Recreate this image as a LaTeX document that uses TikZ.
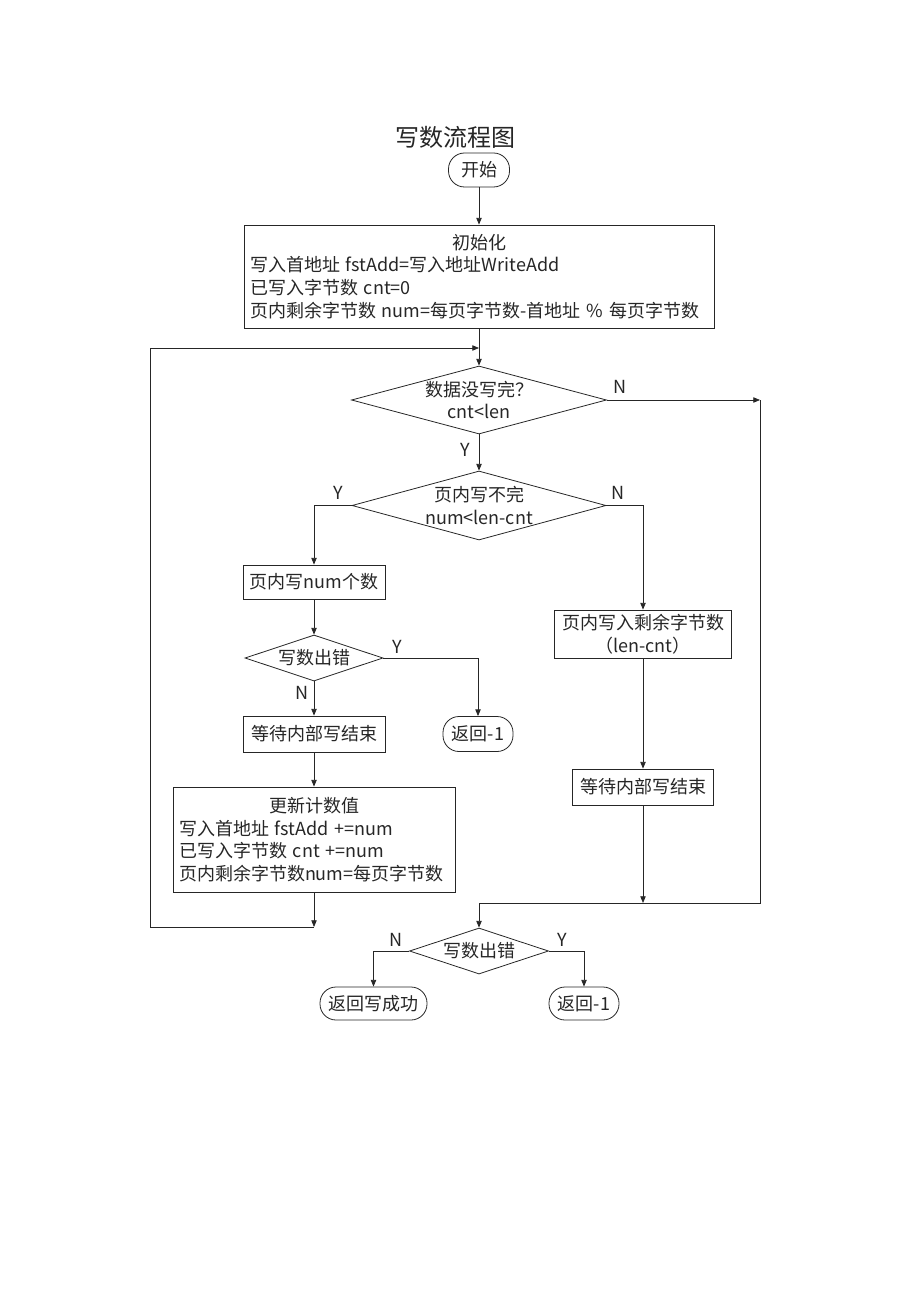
\documentclass[tikz,border=0pt]{standalone}
\usepackage{fontspec}
\setmainfont{Noto Sans CJK SC}
\usepackage{xcolor}
\usetikzlibrary{shapes.geometric,arrows.meta}

\begin{document}
\begin{tikzpicture}[x=0.75pt,y=-0.75pt,
	font=\fontsize{13.5pt}{17pt}\selectfont,
	line width=0.6pt, draw=black!85, text=black!85,
	>={Triangle[length=5pt,width=4pt]},
	procbox/.style={draw, rectangle, inner sep=0pt, align=center},
	termbox/.style={draw, rectangle, rounded corners=12pt, inner sep=0pt, align=center},
	decide/.style={draw, diamond, inner sep=0pt, align=center},
	yn/.style={inner sep=0pt}]
	\useasboundingbox (0,0) rectangle (920,1301);

	\node[font=\fontsize{18pt}{20pt}\selectfont] (title) at (455,137) {写数流程图};
	\node[termbox, minimum width=45.75pt, minimum height=25.5pt] (start) at (479,170) {开始};
	\node[procbox, inner xsep=4.5pt, text width=343.5pt, minimum height=77.25pt, align=left] (init) at (479,276.5)
		{\makebox[\hsize][c]{初始化}\\写入首地址 fstAdd=写入地址WriteAdd\\已写入字节数 cnt=0\\页内剩余字节数 num=每页字节数-首地址 \% 每页字节数};

	\node[decide, minimum width=191.25pt, minimum height=51pt, shape aspect=3.75] (d1) at (479,400) {数据没写完？\\cnt<len};
	\node[decide, minimum width=190.5pt, minimum height=51.75pt, shape aspect=3.7] (d2) at (479,505.5) {页内写不完\\num<len-cnt};

	\node[procbox, minimum width=106.5pt, minimum height=25.5pt] (pgnum) at (314,582) {页内写num个数};
	\node[decide, minimum width=103.5pt, minimum height=34.5pt, shape aspect=3] (d3) at (314,658) {写数出错};
	\node[termbox, minimum width=52.5pt, minimum height=26.25pt] (err1) at (478,734) {返回-1};
	\node[procbox, minimum width=106.5pt, minimum height=27pt] (wait1) at (314,734) {等待内部写结束};
	\node[procbox, inner xsep=4.5pt, text width=202.5pt, minimum height=78.75pt, align=left] (upd) at (314,839.5)
		{\makebox[\hsize][c]{更新计数值}\\写入首地址 fstAdd +=num\\已写入字节数 cnt +=num\\页内剩余字节数num=每页字节数};

	\node[procbox, minimum width=132.75pt, minimum height=36pt] (rest) at (643,634) {页内写入剩余字节数\\（len-cnt）};
	\node[procbox, minimum width=105.75pt, minimum height=27pt] (wait2) at (643,787) {等待内部写结束};

	\node[decide, minimum width=104.25pt, minimum height=34.5pt, shape aspect=3] (d4) at (479,951) {写数出错};
	\node[termbox, minimum width=80.25pt, minimum height=24.75pt] (okay) at (373.5,1003.5) {返回写成功};
	\node[termbox, minimum width=52.5pt, minimum height=24.75pt] (err2) at (584,1003.5) {返回-1};

	\coordinate (rtop) at (760,400);
	\coordinate (rbot) at (760,903);
	\coordinate (lbot) at (150,927);
	\coordinate (ltop) at (150,348);

	\draw[->] (start) -- (init);
	\draw[->] (init) -- (d1);
	\draw[->] (d1) -- (d2);
	\draw[->] (d1.east) -- (rtop);
	\draw[->] (rtop) -- (rbot) -- (d4 |- rbot) -- (d4.north);
	\draw[->] (d2.west) -| (pgnum.north);
	\draw[->] (d2.east) -| (rest.north);
	\draw[->] (pgnum) -- (d3);
	\draw[->] (d3.east) -| (err1.north);
	\draw[->] (d3) -- (wait1);
	\draw[->] (wait1) -- (upd);
	\draw[->] (upd.south) -- (upd.south |- lbot);
	\draw[->] (upd.south |- lbot) -- (lbot) -- (ltop) -- (d1.north |- ltop);
	\draw[->] (rest) -- (wait2);
	\draw[->] (wait2.south) -- (wait2 |- rbot);
	\draw[->] (d4.west) -| (okay.north);
	\draw[->] (d4.east) -| (err2.north);

	\node[yn] at (620,387) {N};
	\node[yn] at (465,450) {Y};
	\node[yn] at (338,493) {Y};
	\node[yn] at (618,493) {N};
	\node[yn] at (397,647) {Y};
	\node[yn] at (302,693) {N};
	\node[yn] at (396,940) {N};
	\node[yn] at (562,940) {Y};
\end{tikzpicture}
\end{document}
